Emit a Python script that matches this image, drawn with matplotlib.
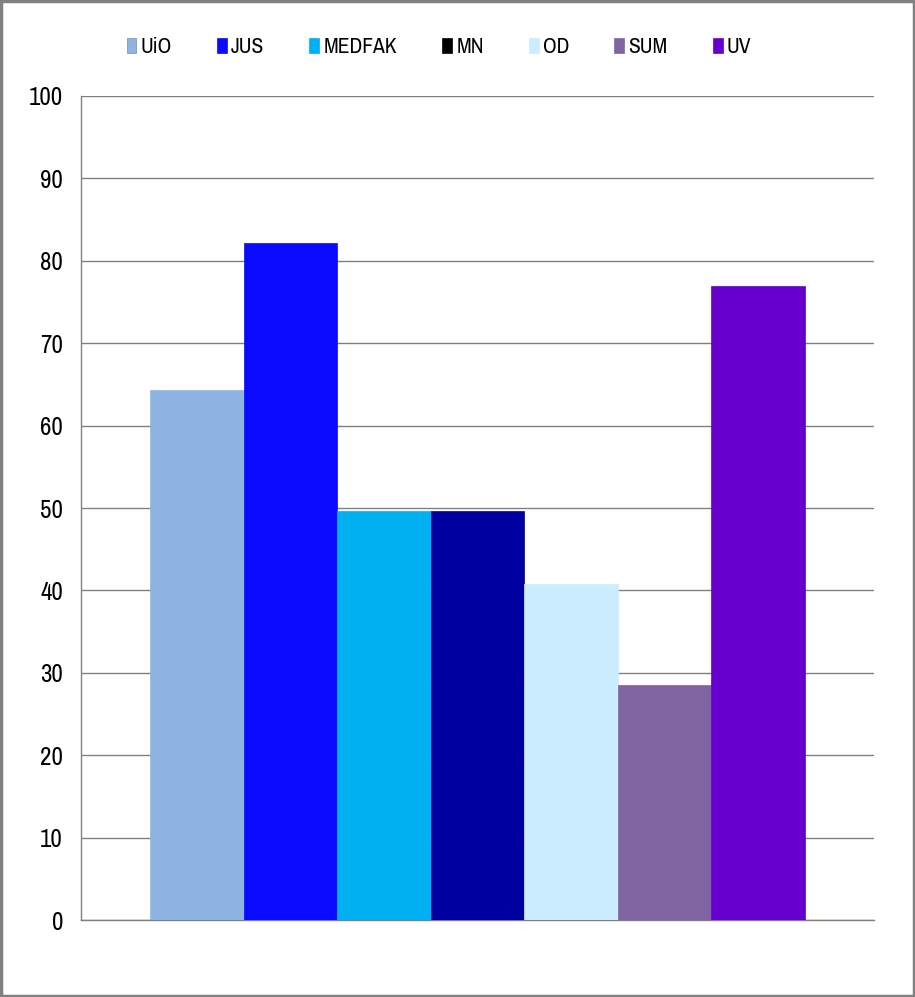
import matplotlib.pyplot as plt
from matplotlib import font_manager
from matplotlib.font_manager import FontProperties
from matplotlib.patches import Rectangle

# series names and values (one category, seven series)
series = ["UiO", "JUS", "MEDFAK", "MN", "OD", "SUM", "UV"]
values = [64.3, 82.2, 49.6, 49.6, 40.8, 28.5, 76.9]
colors = ["#8EB4E3", "#0A0AFF", "#00B0F0", "#0000A0", "#CCECFF", "#8064A2", "#6600CC"]
legend_colors = ["#8EB4E3", "#0A0AFF", "#00B0F0", "#000000", "#CCECFF", "#8064A2", "#6600CC"]
yticks = [0, 10, 20, 30, 40, 50, 60, 70, 80, 90, 100]

# look for a narrow/condensed face, the original uses Arial Narrow
narrow_file = None
for f in font_manager.fontManager.ttflist:
    if ("Narrow" in f.name or "Condensed" in f.name or f.stretch in ("condensed", "semi-condensed")) \
            and f.weight in (400, "normal", "regular") and f.style == "normal":
        narrow_file = f.fname
        if "Narrow" in f.name:
            break
if narrow_file:
    tick_fp = FontProperties(fname=narrow_file, size=18)
    leg_fp = FontProperties(fname=narrow_file, size=15.5)
else:
    tick_fp = FontProperties(family="Liberation Sans", size=16)
    leg_fp = FontProperties(family="Liberation Sans", size=12)

fig = plt.figure(figsize=(9.15, 9.97), dpi=100)
ax = fig.add_axes([81 / 915, 1 - 920 / 997, 793 / 915, 824 / 997])

n = len(series)
width = 0.825 / n
for i, (name, v, c) in enumerate(zip(series, values, colors)):
    x = -0.825 / 2 + width * (i + 0.5)
    ax.bar(x, v, width=width, color=c, edgecolor=c, linewidth=0.5, zorder=3)

ax.set_xlim(-0.5, 0.5)
ax.set_ylim(0, 100)
ax.set_yticks(yticks)
ax.set_yticklabels([str(t) for t in yticks], fontproperties=tick_fp)
ax.set_xticks([])
ax.yaxis.grid(True, color="#808080", linewidth=1, zorder=0)
ax.tick_params(axis="y", length=0, pad=13)
for s in ["top", "right"]:
    ax.spines[s].set_visible(False)
for s in ["left", "bottom"]:
    ax.spines[s].set_color("#808080")
    ax.spines[s].set_linewidth(1)

handles = [Rectangle((0, 0), 1, 1, facecolor=c, edgecolor="#888888" if i == 0 else c, linewidth=0.5)
           for i, c in enumerate(legend_colors)]
fig.legend(handles, series, loc="center", bbox_to_anchor=(439 / 915, 1 - 47 / 997), ncol=n,
           frameon=False, prop=leg_fp, handlelength=0.45, handleheight=0.75,
           handletextpad=0.2, columnspacing=2.1)

# outer chart border
fig.patches.append(Rectangle((0.001, 0.001), 0.998, 0.998, transform=fig.transFigure,
                             fill=False, edgecolor="#808080", linewidth=2.5))

fig.savefig("out.png", dpi=100)
